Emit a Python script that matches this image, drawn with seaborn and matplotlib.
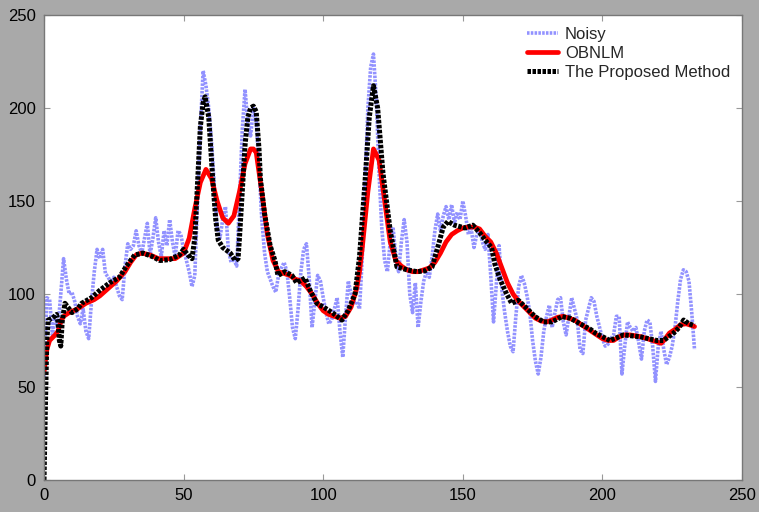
import matplotlib
matplotlib.use("Agg")
import matplotlib.pyplot as plt
import seaborn as sns

# noisy profile, one sample per pixel position 0..233
noisy = [55, 98, 97, 78, 88, 82, 100, 119, 108, 100,
         101, 96, 88, 84, 92, 80, 76, 96, 112, 124,
         119, 124, 111, 109, 106, 109, 104, 99, 97, 115,
         127, 124, 126, 134, 126, 122, 130, 138, 121, 130,
         141, 128, 120, 134, 126, 140, 128, 120, 134, 132,
         124, 118, 112, 104, 110, 150, 190, 220, 212, 200,
         182, 158, 136, 130, 140, 147, 124, 117, 119, 115,
         150, 188, 210, 192, 185, 200, 193, 168, 140, 122,
         112, 108, 104, 101, 110, 114, 117, 112, 98, 82,
         76, 92, 112, 124, 127, 108, 82, 96, 110, 107,
         98, 90, 84, 86, 92, 98, 80, 66, 88, 107,
         100, 95, 96, 92, 120, 160, 200, 222, 229, 205,
         165, 135, 118, 112, 128, 136, 120, 112, 128, 140,
         128, 100, 90, 106, 82, 96, 107, 112, 109, 120,
         134, 143, 134, 142, 147, 140, 148, 138, 144, 140,
         150, 142, 132, 135, 125, 132, 135, 128, 124, 132,
         110, 85, 105, 126, 102, 90, 80, 72, 69, 88,
         104, 110, 106, 99, 90, 75, 64, 57, 66, 80,
         88, 94, 82, 90, 97, 98, 85, 78, 88, 98,
         92, 86, 70, 68, 86, 92, 98, 96, 88, 82,
         76, 72, 73, 76, 78, 88, 88, 57, 72, 85,
         82, 80, 82, 74, 65, 80, 86, 85, 72, 53,
         72, 80, 70, 62, 66, 72, 82, 96, 108, 113,
         112, 107, 90, 70]
noisy_x = list(range(len(noisy)))

obnlm_x = [0, 1, 2, 4, 5, 6, 7, 9, 12, 15, 18, 20, 23, 26, 29, 31, 33, 35, 38, 41,
           44, 47, 50, 52, 54, 56, 58, 60, 62, 64, 66, 68, 70, 72, 74, 75, 76, 78, 80, 82,
           84, 86, 88, 90, 92, 94, 96, 98, 100, 102, 104, 106, 108, 110, 112, 113, 114, 116, 118, 120,
           122, 124, 126, 128, 130, 132, 134, 136, 138, 140, 142, 144, 146, 148, 150, 152, 154, 156, 158, 160,
           162, 164, 166, 168, 170, 172, 174, 176, 178, 180, 182, 184, 186, 188, 190, 192, 194, 196, 198, 200,
           202, 204, 206, 208, 210, 212, 214, 216, 218, 220, 221, 222, 224, 226, 228, 230, 232, 233]
obnlm = [58, 70, 75, 78, 80, 85, 88, 90, 92, 95, 97, 99, 103, 107, 112, 117, 121, 122, 121, 119,
         119, 119, 122, 130, 146, 160, 167, 162, 150, 141, 138, 142, 155, 170, 178, 178, 176, 155, 132, 118,
         112, 111, 110, 108, 107, 104, 100, 95, 91, 89, 88, 87, 88, 93, 103, 112, 125, 155, 178, 172,
         150, 128, 118, 115, 113, 112, 112, 113, 114, 117, 122, 128, 132, 134, 135.5, 136, 136, 135, 131, 128,
         122, 114, 106, 100, 96, 93, 90, 87, 85.5, 85, 86, 87.5, 88, 87, 86, 84, 82, 80, 78, 76,
         75, 75, 77, 78, 78, 77.5, 77, 76, 75, 74, 73.5, 75, 79, 81, 83.5, 84, 83, 82.5]

proposed_x = [0, 0.5, 1, 1.5, 3, 4.5, 5, 5.5, 6, 6.5, 7.5, 8.5, 10, 12, 13.5, 17, 20, 23.5, 27, 29.5,
              32.5, 35.5, 39, 41.5, 45, 48.5, 50, 51.5, 53, 54, 55, 56, 57, 57.7, 59, 60.5, 61.5, 62.4, 64, 66.7,
              68.5, 69.5, 70, 71, 72, 73, 74, 75, 76, 77, 77.5, 79, 81, 82.7, 83.8, 86.3, 88.8, 90.5, 93.5, 95.3,
              97.7, 100.6, 103.5, 106.7, 108.9, 111.4, 113, 115, 116.5, 118, 119.5, 121.4, 124, 126.4, 130, 133.6, 136.5, 139, 141, 143,
              144.7, 147, 150.8, 153.6, 156, 158, 160.3, 161.5, 163.3, 165.7, 167.5, 169.9, 172.9, 175.9, 178.9, 181.9, 185.5, 188.5, 192, 195.7,
              197.5, 202.7, 207.5, 213.5, 219.5, 221.9, 225.5, 227.5, 229.1, 231, 233]
proposed = [0, 40, 75, 86, 87, 89, 85, 75, 72, 85, 95, 93, 90, 92, 95, 98, 102, 106, 109, 115,
            121, 122, 120, 118, 118.5, 121, 124, 121, 119, 130, 160, 190, 203, 206, 195, 160, 140, 129, 125, 122,
            118, 119, 130, 155, 180, 195, 200, 201, 198, 178, 162, 143, 126, 118, 110, 112, 110, 106, 108.6, 102,
            95, 92.5, 89.7, 86, 91, 100, 120, 161, 195, 212, 200, 165, 134, 114.6, 113, 112, 112.5, 114.6, 125, 136,
            139, 137, 135.5, 137, 133, 129, 125, 116, 108, 100, 95, 96.6, 92.3, 87.8, 85, 85, 87.8, 87, 84, 81,
            79, 75, 78, 77, 75, 75, 79, 82, 86, 84, 83]

x_ticks = [0, 50, 100, 150, 200, 250]
y_ticks = [0, 50, 100, 150, 200, 250]

sns.set_style("ticks")
plt.rcParams["font.family"] = ["Liberation Sans", "DejaVu Sans"]

fig = plt.figure(figsize=(7.59, 5.12), dpi=100, facecolor="#a9a9a9")
ax = fig.add_axes([0.058, 0.0625, 0.9196, 0.9082])
ax.set_facecolor("white")

sns.lineplot(x=noisy_x, y=noisy, ax=ax, color="#6464ff", alpha=0.7, lw=2.6,
             linestyle=(0, (0.7, 0.35)), label="Noisy", sort=False, estimator=None)
sns.lineplot(x=obnlm_x, y=obnlm, ax=ax, color="red", lw=3.4,
             label="OBNLM", sort=False, estimator=None)
sns.lineplot(x=proposed_x, y=proposed, ax=ax, color="black", lw=3.6,
             linestyle=(0, (0.7, 0.3)), label="The Proposed Method", sort=False, estimator=None)

ax.set_xlim(0, 250)
ax.set_ylim(0, 250)
ax.set_xticks(x_ticks)
ax.set_yticks(y_ticks)
ax.tick_params(direction="in", top=True, right=True, length=4, color="#999999",
               labelsize=12, labelcolor="black", pad=6)
for s in ax.spines.values():
    s.set_color("#777777")
    s.set_linewidth(1)

ax.legend(loc="upper right", frameon=False, fontsize=12, handlelength=1.9,
          handletextpad=0.4, labelspacing=0.25, borderaxespad=0.3)

fig.savefig("out.png", dpi=100, facecolor=fig.get_facecolor())
